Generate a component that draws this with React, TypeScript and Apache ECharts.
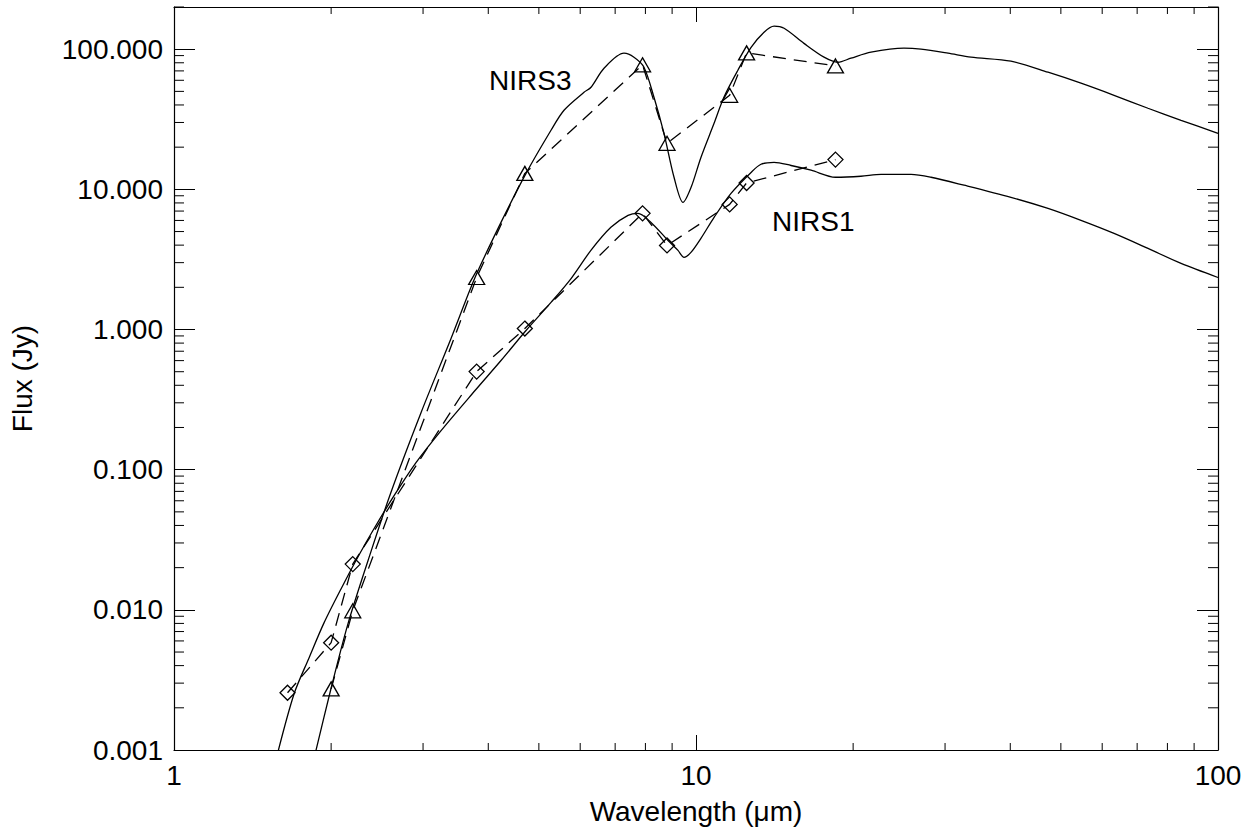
import React, { useEffect, useRef } from "react";
import * as echarts from "echarts";

// Model SED (solid curves)
const nirs3ModelWave = [1.86, 2.0, 2.154, 2.353, 2.594, 2.973, 3.394, 3.773, 4.231, 4.725, 5.275, 5.587, 6.102, 6.294, 6.665, 7.278, 7.606, 7.949, 8.308, 8.682, 9.076, 9.443, 9.782, 10.22, 10.83, 11.31, 12.03, 12.75, 13.5, 14.11, 14.75, 16.1, 17.59, 18.71, 19.81, 21.64, 25.03, 26.98, 30.4, 33.64, 40.12, 47.24, 54.64, 63.22, 73.43, 84.96, 100];
const nirs3ModelFlux = [0.00091, 0.00277, 0.00794, 0.0224, 0.0663, 0.255, 0.863, 2.35, 5.81, 13.0, 26.4, 36.7, 49.3, 53.5, 73.1, 93.6, 87.7, 74.4, 45.4, 25.1, 12.2, 8.07, 10.3, 16.9, 29.6, 45.4, 70.8, 103, 132, 146, 141, 110, 87.7, 80.7, 86.3, 95.2, 101.7, 100, 93.6, 87.7, 82.1, 68.5, 57.2, 46.9, 37.9, 31.1, 25.1];

const nirs1ModelWave = [1.575, 1.698, 1.814, 1.938, 2.089, 2.252, 2.416, 2.64, 2.908, 3.248, 3.773, 4.231, 4.725, 5.275, 5.763, 6.29, 6.87, 7.41, 7.74, 8.2, 8.84, 9.237, 9.485, 9.78, 10.22, 10.83, 11.67, 12.75, 13.32, 14.11, 15.21, 16.61, 18.5, 20.7, 22.62, 25.82, 28.2, 32.62, 40.12, 47.24, 54.64, 63.22, 73.43, 84.96, 100];
const nirs1ModelFlux = [0.00091, 0.00251, 0.00454, 0.00807, 0.0141, 0.0239, 0.0379, 0.0652, 0.1122, 0.19, 0.367, 0.601, 0.984, 1.56, 2.31, 3.67, 5.36, 6.52, 6.74, 5.81, 4.32, 3.67, 3.27, 3.55, 4.47, 6.31, 9.36, 13.2, 15.1, 15.6, 14.8, 13.7, 12.2, 12.4, 12.8, 12.8, 12.2, 10.7, 8.77, 7.31, 6.01, 4.85, 3.79, 2.96, 2.35];

// Photometry (dashed, with symbols)
const nirs3PhotWave = [2.0, 2.2, 3.8, 4.7, 7.9, 8.8, 11.6, 12.5, 18.5];
const nirs3PhotFlux = [0.00273, 0.00984, 2.35, 13.0, 77.4, 21.3, 46.9, 94.1, 76.0];
const nirs1PhotWave = [1.65, 2.0, 2.2, 3.8, 4.7, 7.9, 8.8, 11.6, 12.5, 18.5];
const nirs1PhotFlux = [0.00256, 0.00583, 0.0212, 0.501, 1.016, 6.74, 3.98, 7.81, 11.1, 16.3];

// Axes
const xMin = 1;
const xMax = 100;
const yMin = 0.001;
const yMax = 200;
const yMajorTicks = [0.001, 0.01, 0.1, 1, 10, 100];
const xMinorTicks = [2, 3, 4, 5, 6, 7, 8, 9, 20, 30, 40, 50, 60, 70, 80, 90];
const yMinorTicks: number[] = [];
[0.001, 0.01, 0.1, 1, 10, 100].forEach((d) => {
  [2, 3, 4, 5, 6, 7, 8, 9].forEach((m) => {
    const v = +(d * m).toPrecision(3);
    if (v <= yMax) yMinorTicks.push(v);
  });
});

const FONT = "'Liberation Sans', Arial, Helvetica, sans-serif";
const FS = 28;

const zip = (a: number[], b: number[]) => a.map((v, i) => [v, b[i]]);

function tickSeries(values: number[], dir: "x" | "y", len: number) {
  return {
    type: "custom",
    silent: true,
    clip: false,
    z: 10,
    xAxisIndex: 0,
    yAxisIndex: 0,
    data: dir === "x" ? values.map((v) => [v, 1]) : values.map((v) => [1, v]),
    renderItem: (params: any, api: any) => {
      const cs = params.coordSys;
      const p = api.coord([api.value(0), api.value(1)]);
      const style = { stroke: "#000", lineWidth: 1 };
      if (dir === "x") {
        return {
          type: "group",
          children: [
            { type: "line", shape: { x1: p[0], y1: cs.y + cs.height, x2: p[0], y2: cs.y + cs.height - len }, style },
            { type: "line", shape: { x1: p[0], y1: cs.y, x2: p[0], y2: cs.y + len }, style },
          ],
        };
      }
      return {
        type: "group",
        children: [
          { type: "line", shape: { x1: cs.x, y1: p[1], x2: cs.x + len, y2: p[1] }, style },
          { type: "line", shape: { x1: cs.x + cs.width, y1: p[1], x2: cs.x + cs.width - len, y2: p[1] }, style },
        ],
      };
    },
  };
}

export default function App() {
  const ref = useRef<HTMLDivElement>(null);
  useEffect(() => {
    document.body.style.margin = "0";
    if (!ref.current) return;
    const chart = echarts.init(ref.current, null, { renderer: "svg" });
    const axisLine = { show: true, onZero: false, lineStyle: { color: "#000", width: 1.2 } };
    const isMajor = (v: number) => yMajorTicks.some((t) => Math.abs(Math.log10(v) - Math.log10(t)) < 0.01);
    chart.setOption({
      animation: false,
      backgroundColor: "#fff",
      textStyle: { fontFamily: FONT },
      grid: { left: 173, right: 39, top: 7, bottom: 82, containLabel: false },
      xAxis: [
        {
          type: "log",
          logBase: 10,
          min: xMin,
          max: xMax,
          position: "bottom",
          axisLine,
          axisTick: { show: true, inside: true, length: 15, lineStyle: { color: "#000", width: 1 } },
          axisLabel: { show: true, color: "#000", fontSize: FS, fontFamily: FONT, margin: 11, formatter: (v: number) => String(Math.round(v)) },
          splitLine: { show: false },
          name: "Wavelength (\u03bcm)",
          nameLocation: "middle",
          nameGap: 47,
          nameTextStyle: { color: "#000", fontSize: FS, fontFamily: FONT },
        },
        {
          type: "log",
          logBase: 10,
          min: xMin,
          max: xMax,
          position: "top",
          axisLine,
          axisTick: { show: true, inside: true, length: 15, lineStyle: { color: "#000", width: 1 } },
          axisLabel: { show: false },
          splitLine: { show: false },
        },
      ],
      yAxis: [
        {
          type: "log",
          logBase: 10,
          min: yMin,
          max: yMax,
          position: "left",
          axisLine,
          axisTick: { show: true, inside: true, length: 21, lineStyle: { color: "#000", width: 1 } },
          axisLabel: {
            show: true,
            color: "#000",
            fontSize: FS,
            fontFamily: FONT,
            margin: 11,
            formatter: (v: number) => (isMajor(v) ? v.toFixed(3) : ""),
          },
          splitLine: { show: false },
          name: "Flux (Jy)",
          nameLocation: "middle",
          nameGap: 138,
          nameTextStyle: { color: "#000", fontSize: FS, fontFamily: FONT },
        },
        {
          type: "log",
          logBase: 10,
          min: yMin,
          max: yMax,
          position: "right",
          axisLine,
          axisTick: { show: true, inside: true, length: 21, lineStyle: { color: "#000", width: 1 } },
          axisLabel: { show: false },
          splitLine: { show: false },
        },
      ],
      series: [
        {
          name: "NIRS3 model",
          type: "line",
          data: zip(nirs3ModelWave, nirs3ModelFlux),
          showSymbol: false,
          symbol: "none",
          smooth: 0.3,
          clip: true,
          lineStyle: { color: "#000", width: 1.3 },
        },
        {
          name: "NIRS1 model",
          type: "line",
          data: zip(nirs1ModelWave, nirs1ModelFlux),
          showSymbol: false,
          symbol: "none",
          smooth: 0.3,
          clip: true,
          lineStyle: { color: "#000", width: 1.3 },
        },
        {
          name: "NIRS3",
          type: "line",
          data: zip(nirs3PhotWave, nirs3PhotFlux),
          symbol: "triangle",
          symbolSize: [16, 14],
          itemStyle: { color: "rgba(0,0,0,0)", borderColor: "#000", borderWidth: 1.3 },
          lineStyle: { color: "#000", width: 1.3, type: [13, 8] },
          clip: true,
        },
        {
          name: "NIRS1",
          type: "line",
          data: zip(nirs1PhotWave, nirs1PhotFlux),
          symbol: "diamond",
          symbolSize: 15,
          itemStyle: { color: "rgba(0,0,0,0)", borderColor: "#000", borderWidth: 1.3 },
          lineStyle: { color: "#000", width: 1.3, type: [13, 8] },
          clip: true,
        },
        tickSeries(xMinorTicks, "x", 7),
        tickSeries(yMinorTicks, "y", 10),
      ],
      graphic: [
        { type: "text", x: 489, y: 80, style: { text: "NIRS3", fill: "#000", fontSize: FS, fontFamily: FONT, verticalAlign: "middle", align: "left" } },
        { type: "text", x: 772, y: 221, style: { text: "NIRS1", fill: "#000", fontSize: FS, fontFamily: FONT, verticalAlign: "middle", align: "left" } },
      ],
    });
    return () => chart.dispose();
  }, []);
  return <div ref={ref} style={{ width: 1257, height: 832 }} />;
}
